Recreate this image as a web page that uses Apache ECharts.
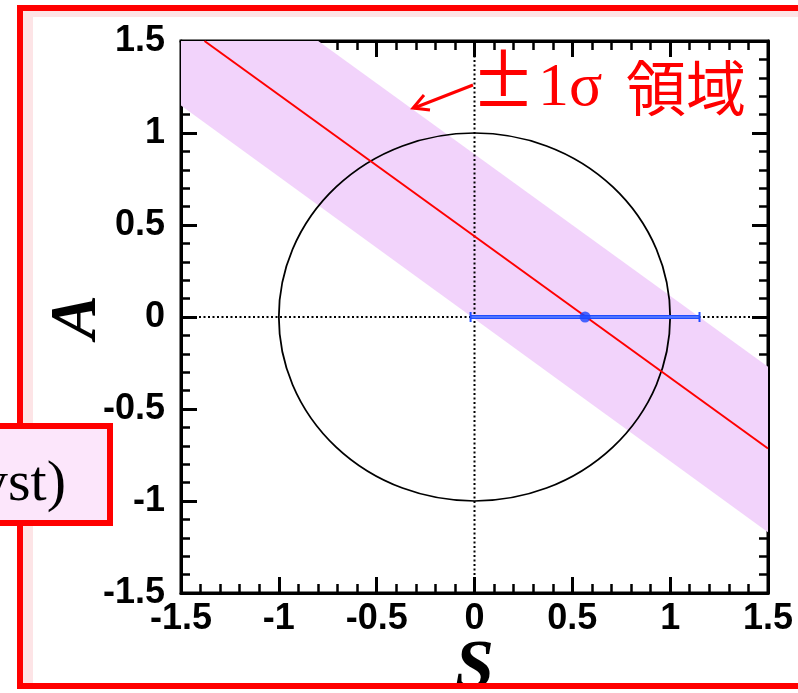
<!DOCTYPE html>
<html>
<head>
<meta charset="utf-8">
<script src="https://cdn.jsdelivr.net/npm/echarts@6/dist/echarts.min.js"></script>
<style>
html,body{margin:0;padding:0;background:#fff;}
#chart{width:798px;height:693px;}
</style>
</head>
<body>
<div id="chart"></div>
<script>
// ---- data ----
const axisRange = [-1.5, 1.5];
const tickStep = 0.5;
const tickLabels = ['-1.5', '-1', '-0.5', '0', '0.5', '1', '1.5'];
// unit circle: [centerS, centerA, radius]
const circle = [[0, 0, 1]];
// dotted cross lines through the origin
const vLine = [[0, -1.5], [0, 1.5]];
const hLine = [[-1.5, 0], [1.5, 0]];
// best fit line (red)
const fitLine = [[-1.38, 1.5], [1.5, -0.715]];
// ±1σ band edges
const bandUpper = [[-1.5, 2.04], [1.5, -0.27]];
const bandLower = [[-1.5, 1.15], [1.5, -1.17]];
// measured point with horizontal error bar
const pointS = [0.565];
const pointA = [0];
const errLow = [-0.02];
const errHigh = [1.15];

const chart = echarts.init(document.getElementById('chart'), null, {renderer: 'canvas'});

const labelFont = {fontFamily: '"Liberation Sans", Arial, sans-serif', fontWeight: 'bold', fontSize: 36, color: '#000'};
function axisCommon(showLabel) {
  return {
    type: 'value', min: axisRange[0], max: axisRange[1], interval: tickStep,
    axisLine: {show: true, onZero: false, lineStyle: {color: '#000', width: 3}},
    axisTick: {show: true, inside: true, length: 16, lineStyle: {color: '#000', width: 3}},
    minorTick: {show: true, splitNumber: 5, length: 9, lineStyle: {color: '#000', width: 2.5}},
    splitLine: {show: false},
    minorSplitLine: {show: false},
    axisLabel: Object.assign({
      show: showLabel, showMinLabel: true, showMaxLabel: true, hideOverlap: false,
      formatter: function (v) {
        const i = Math.round((v - axisRange[0]) / tickStep);
        return tickLabels[i] !== undefined ? tickLabels[i] : String(v);
      }
    }, labelFont)
  };
}

const xBottom = Object.assign(axisCommon(true), {
  position: 'bottom',
  name: 'S', nameLocation: 'middle', nameGap: 42, nameMoveOverlap: false,
  nameTextStyle: {fontFamily: 'Liberation Serif, Times New Roman, serif', fontStyle: 'italic', fontWeight: 'bold', fontSize: 70, color: '#000'}
});
xBottom.axisLabel.margin = 8;
const xTop = Object.assign(axisCommon(false), {position: 'top'});
const yLeft = Object.assign(axisCommon(true), {
  position: 'left',
  name: 'A', nameLocation: 'middle', nameGap: 70, nameRotate: 90, nameMoveOverlap: false,
  nameTextStyle: {fontFamily: 'Liberation Serif, Times New Roman, serif', fontStyle: 'italic', fontWeight: 'bold', fontSize: 66, color: '#000'}
});
yLeft.axisLabel.margin = 16;
const yRight = Object.assign(axisCommon(false), {position: 'right'});

const option = {
  backgroundColor: '#ffffff',
  animation: false,
  grid: {left: 181, top: 41, width: 587, height: 552, show: true, borderColor: '#000', borderWidth: 3, backgroundColor: 'transparent', containLabel: false, outerBoundsMode: 'none'},
  xAxis: [xBottom, xTop],
  yAxis: [yLeft, yRight],
  series: [
    {
      type: 'custom', name: 'band', clip: true, z: 1,
      data: [0],
      renderItem: function (params, api) {
        const pts = bandUpper.map(p => api.coord(p)).concat(bandLower.slice().reverse().map(p => api.coord(p)));
        return {type: 'polygon', shape: {points: pts}, style: {fill: '#f2d3fb', stroke: 'none'}};
      }
    },
    {
      type: 'custom', name: 'circle', clip: true, z: 2,
      data: circle,
      renderItem: function (params, api) {
        const c = api.coord([api.value(0), api.value(1)]);
        const rx = api.size([api.value(2), 0])[0];
        const ry = api.size([0, api.value(2)])[1];
        return {
          type: 'circle', x: c[0], y: c[1], scaleX: 1, scaleY: ry / rx,
          shape: {cx: 0, cy: 0, r: rx},
          style: {fill: 'none', stroke: '#000', lineWidth: 1.8, strokeNoScale: true}
        };
      }
    },
    {
      type: 'line', name: 'vline', data: vLine, symbol: 'none', z: 3,
      lineStyle: {color: '#000', width: 2, type: [2, 2.5]}
    },
    {
      type: 'line', name: 'hline', data: hLine, symbol: 'none', z: 3,
      lineStyle: {color: '#000', width: 2, type: [2, 2.5]}
    },
    {
      type: 'line', name: 'fit', data: fitLine, symbol: 'none', z: 4, clip: true,
      lineStyle: {color: '#ff0000', width: 2}
    },
    {
      type: 'custom', name: 'errbar', z: 5,
      data: pointS.map((s, i) => [errLow[i], errHigh[i], pointA[i]]),
      renderItem: function (params, api) {
        const a = api.coord([api.value(0), api.value(2)]);
        const b = api.coord([api.value(1), api.value(2)]);
        return {
          type: 'group',
          children: [
            {type: 'line', shape: {x1: a[0], y1: a[1], x2: b[0], y2: b[1]}, style: {stroke: '#1f4cff', lineWidth: 4}},
            {type: 'line', shape: {x1: a[0], y1: a[1], x2: b[0], y2: b[1]}, style: {stroke: '#7f9bff', lineWidth: 1}},
            {type: 'line', shape: {x1: a[0], y1: a[1] - 5, x2: a[0], y2: a[1] + 5}, style: {stroke: '#1f4cff', lineWidth: 2}},
            {type: 'line', shape: {x1: b[0], y1: b[1] - 5, x2: b[0], y2: b[1] + 5}, style: {stroke: '#1f4cff', lineWidth: 2}}
          ]
        };
      }
    },
    {
      type: 'scatter', name: 'point', z: 6,
      data: pointS.map((s, i) => [s, pointA[i]]),
      symbol: 'circle', symbolSize: 11,
      itemStyle: {color: '#1a46ff'}
    }
  ],
  graphic: [
    // slide frame
    {type: 'line', z: 90, shape: {x1: 23, y1: 14, x2: 798, y2: 14}, style: {stroke: '#fde4e6', lineWidth: 6}},
    {type: 'line', z: 90, shape: {x1: 28, y1: 11, x2: 28, y2: 683}, style: {stroke: '#fde4e6', lineWidth: 10}},
    {type: 'rect', z: 91, shape: {x: 20, y: 8, width: 800, height: 678}, style: {fill: 'none', stroke: '#ff0000', lineWidth: 6}},
    // left partial box
    {type: 'rect', z: 92, shape: {x: -10, y: 426, width: 120, height: 97}, style: {fill: '#fce6fb', stroke: '#ff0000', lineWidth: 6}},
    {type: 'text', z: 93, x: 66, y: 485, style: {text: '(syst)', font: '58px "Liberation Serif", "Times New Roman", serif', fill: '#000', textAlign: 'right', verticalAlign: 'middle'}},
    // annotation
    {type: 'text', z: 93, x: 476, y: 80, style: {text: '±', font: '100px "Liberation Serif", serif', fill: '#ff0000', textAlign: 'left', verticalAlign: 'middle'}},
    {type: 'text', z: 93, x: 538, y: 89, style: {text: '1σ', font: '62px "Liberation Serif", serif', fill: '#ff0000', textAlign: 'left', verticalAlign: 'middle'}},
    {type: 'text', z: 93, x: 626, y: 88, style: {text: '領域', font: '60px "Noto Sans CJK JP", sans-serif', fill: '#ff0000', textAlign: 'left', verticalAlign: 'middle'}},
    // arrow
    {type: 'line', z: 93, shape: {x1: 473, y1: 85, x2: 414, y2: 108}, style: {stroke: '#ff0000', lineWidth: 3}},
    {type: 'polyline', z: 93, shape: {points: [[424, 95], [413, 108], [430, 110]]}, style: {stroke: '#ff0000', lineWidth: 3, fill: 'none'}}
  ]
};
chart.setOption(option);
</script>
</body>
</html>
